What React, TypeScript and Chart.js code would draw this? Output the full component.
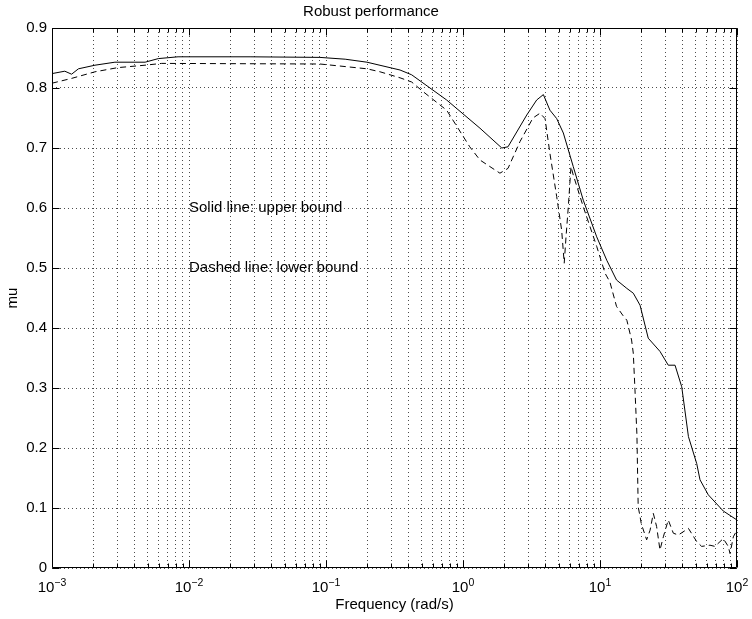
import React, { useEffect, useRef } from 'react';
import { Chart, registerables } from 'chart.js';

Chart.register(...registerables);

const FONT = '"Liberation Sans", Arial, Helvetica, sans-serif';

const titleText = 'Robust performance';
const xTitle = 'Frequency (rad/s)';
const yTitle = 'mu';

// Upper bound (solid)
const upperFreq = [0.001, 0.00124, 0.00139, 0.00156, 0.00206, 0.00288, 0.00478, 0.00597, 0.00832, 0.0279, 0.0903, 0.138, 0.199, 0.347, 0.422, 0.76, 1.33, 1.92, 2.13, 2.92, 3.45, 3.86, 4.31, 4.83, 5.4, 6.38, 7.55, 9.46, 11.2, 13.2, 15.7, 17.5, 19.6, 22.5, 27.4, 31.5, 35.3, 39.5, 44.2, 50.8, 53.7, 61.7, 79.4, 100];
const upperMu = [0.824, 0.828, 0.823, 0.832, 0.838, 0.843, 0.843, 0.849, 0.852, 0.852, 0.851, 0.848, 0.843, 0.830, 0.822, 0.780, 0.733, 0.700, 0.702, 0.755, 0.780, 0.789, 0.763, 0.749, 0.725, 0.669, 0.613, 0.552, 0.513, 0.480, 0.466, 0.458, 0.438, 0.383, 0.361, 0.338, 0.338, 0.302, 0.219, 0.174, 0.147, 0.122, 0.095, 0.080];

// Lower bound (dashed)
const lowerFreq = [0.001, 0.00139, 0.00206, 0.00303, 0.00478, 0.00632, 0.0903, 0.199, 0.248, 0.347, 0.422, 0.511, 0.76, 1.12, 1.33, 1.86, 2.13, 2.61, 3.24, 3.65, 3.97, 4.31, 4.83, 5.25, 5.48, 5.65, 5.87, 6.14, 6.38, 7.55, 9.46, 10.9, 11.8, 13.2, 14.8, 15.7, 17.0, 17.5, 18.0, 18.6, 19.0, 19.6, 20.0, 21.9, 23.2, 24.5, 25.9, 27.4, 29.0, 31.5, 34.3, 37.3, 44.2, 50.8, 55.2, 63.5, 69.0, 79.4, 86.3, 89.0, 94.0, 100];
const lowerMu = [0.808, 0.816, 0.827, 0.834, 0.838, 0.841, 0.840, 0.832, 0.827, 0.817, 0.810, 0.794, 0.763, 0.702, 0.680, 0.658, 0.666, 0.711, 0.750, 0.758, 0.749, 0.691, 0.619, 0.563, 0.508, 0.552, 0.602, 0.669, 0.655, 0.602, 0.536, 0.491, 0.477, 0.436, 0.420, 0.413, 0.380, 0.358, 0.297, 0.222, 0.102, 0.086, 0.074, 0.047, 0.063, 0.091, 0.069, 0.030, 0.052, 0.080, 0.058, 0.055, 0.066, 0.044, 0.036, 0.038, 0.036, 0.049, 0.036, 0.024, 0.052, 0.063];

// Axes
const xDecades = [0.001, 0.01, 0.1, 1, 10, 100];
const xExponents = ['\u22123', '\u22122', '\u22121', '0', '1', '2'];
const yTickValues = [0, 0.1, 0.2, 0.3, 0.4, 0.5, 0.6, 0.7, 0.8, 0.9];
const yTickLabels = ['0', '0.1', '0.2', '0.3', '0.4', '0.5', '0.6', '0.7', '0.8', '0.9'];

// Text annotations (data coordinates)
const noteX = [0.01, 0.01];
const noteY = [0.6, 0.5];
const noteText = ['Solid line: upper bound', 'Dashed line: lower bound'];

// log grid positions: 1..9 x each decade
const xGridValues: number[] = [];
for (let i = 0; i < xDecades.length - 1; i++) {
  for (let k = 1; k <= 9; k++) xGridValues.push(+(xDecades[i] * k).toPrecision(6));
}
xGridValues.push(xDecades[xDecades.length - 1]);

const decorPlugin = {
  id: 'decor',
  afterDatasetsDraw(chart: any) {
    const { ctx, chartArea: a, scales } = chart;
    const x = scales.x;
    const y = scales.y;
    ctx.save();
    ctx.strokeStyle = '#000';
    ctx.fillStyle = '#000';
    ctx.lineWidth = 1;
    ctx.setLineDash([]);

    const L = Math.round(a.left) + 0.5;
    const R = Math.round(a.right) - 0.5;
    const T = Math.round(a.top) + 0.5;
    const B = Math.round(a.bottom) - 0.5;

    ctx.beginPath();
    // box
    ctx.rect(L, T, R - L, B - T);
    // x ticks (inward, bottom and top)
    xGridValues.forEach((v) => {
      const px = Math.round(x.getPixelForValue(v)) + 0.5;
      const major = xDecades.some((d) => Math.abs(Math.log10(d) - Math.log10(v)) < 1e-6);
      const len = major ? 7 : 4;
      ctx.moveTo(px, B);
      ctx.lineTo(px, B - len);
      ctx.moveTo(px, T);
      ctx.lineTo(px, T + len);
    });
    // y ticks (inward, left and right)
    yTickValues.forEach((v) => {
      const py = Math.round(y.getPixelForValue(v)) + 0.5;
      ctx.moveTo(L, py);
      ctx.lineTo(L + 7, py);
      ctx.moveTo(R, py);
      ctx.lineTo(R - 7, py);
    });
    ctx.stroke();

    // x tick labels with superscript exponents
    ctx.textBaseline = 'alphabetic';
    ctx.textAlign = 'left';
    xDecades.forEach((v, i) => {
      const px = x.getPixelForValue(v);
      ctx.font = `15px ${FONT}`;
      const w1 = ctx.measureText('10').width;
      ctx.font = `10.5px ${FONT}`;
      const w2 = ctx.measureText(xExponents[i]).width;
      const start = px - (w1 + w2) / 2;
      ctx.font = `15px ${FONT}`;
      ctx.fillText('10', start, a.bottom + 23.5);
      ctx.font = `10.5px ${FONT}`;
      ctx.fillText(xExponents[i], start + w1, a.bottom + 18);
    });

    // annotations
    ctx.font = `15px ${FONT}`;
    ctx.textBaseline = 'middle';
    noteText.forEach((t, i) => {
      ctx.fillText(t, x.getPixelForValue(noteX[i]), y.getPixelForValue(noteY[i]));
    });
    ctx.restore();
  },
};

export default function App() {
  const ref = useRef<HTMLCanvasElement>(null);
  useEffect(() => {
    document.body.style.margin = '0';
    const gridColor = 'rgba(0,0,0,0.7)';
    const chart = new Chart(ref.current as HTMLCanvasElement, {
      type: 'line',
      data: {
        datasets: [
          {
            label: 'upper bound',
            data: upperFreq.map((f, i) => ({ x: f, y: upperMu[i] })),
            borderColor: '#000',
            borderWidth: 1,
            pointRadius: 0,
            fill: false,
            tension: 0,
          },
          {
            label: 'lower bound',
            data: lowerFreq.map((f, i) => ({ x: f, y: lowerMu[i] })),
            borderColor: '#000',
            borderWidth: 1,
            borderDash: [6, 4],
            pointRadius: 0,
            fill: false,
            tension: 0,
          },
        ],
      },
      options: {
        responsive: false,
        animation: false,
        devicePixelRatio: 1,
        layout: { padding: { left: 5, right: 15, top: 0, bottom: 0 } },
        plugins: {
          legend: { display: false },
          tooltip: { enabled: false },
          title: {
            display: true,
            text: titleText,
            color: '#000',
            font: { family: FONT, size: 15, weight: 'normal', lineHeight: 1.2 },
            padding: { top: 3, bottom: 7 },
          },
        },
        scales: {
          x: {
            type: 'logarithmic',
            min: 0.001,
            max: 100,
            afterBuildTicks: (s: any) => {
              s.ticks = xGridValues.map((v) => ({ value: v }));
            },
            afterFit: (s: any) => {
              s.height = 51;
            },
            ticks: { display: false },
            grid: { color: gridColor, lineWidth: 1, drawTicks: false },
            border: { display: false, dash: [1, 3] },
            title: {
              display: true,
              text: xTitle,
              color: '#000',
              font: { family: FONT, size: 15, lineHeight: 1.2 },
              padding: { top: 0, bottom: 4.7 },
            },
          },
          y: {
            type: 'linear',
            min: 0,
            max: 0.9,
            afterBuildTicks: (s: any) => {
              s.ticks = yTickValues.map((v) => ({ value: v }));
            },
            afterFit: (s: any) => {
              s.width = 47;
            },
            ticks: {
              color: '#000',
              font: { family: FONT, size: 15 },
              padding: 5,
              callback: (_v: any, i: number) => yTickLabels[i],
            },
            grid: { color: gridColor, lineWidth: 1, drawTicks: false },
            border: { display: false, dash: [1, 3] },
            title: {
              display: true,
              text: yTitle,
              color: '#000',
              font: { family: FONT, size: 15, lineHeight: 1 },
              padding: { top: 0, bottom: 0 },
            },
          },
        },
      },
      plugins: [decorPlugin],
    } as any);
    return () => chart.destroy();
  }, []);
  return (
    <div style={{ position: 'absolute', left: 0, top: 0, width: 752, height: 619, background: '#fff' }}>
      <canvas ref={ref} width={752} height={619} style={{ display: 'block', width: 752, height: 619 }} />
    </div>
  );
}
